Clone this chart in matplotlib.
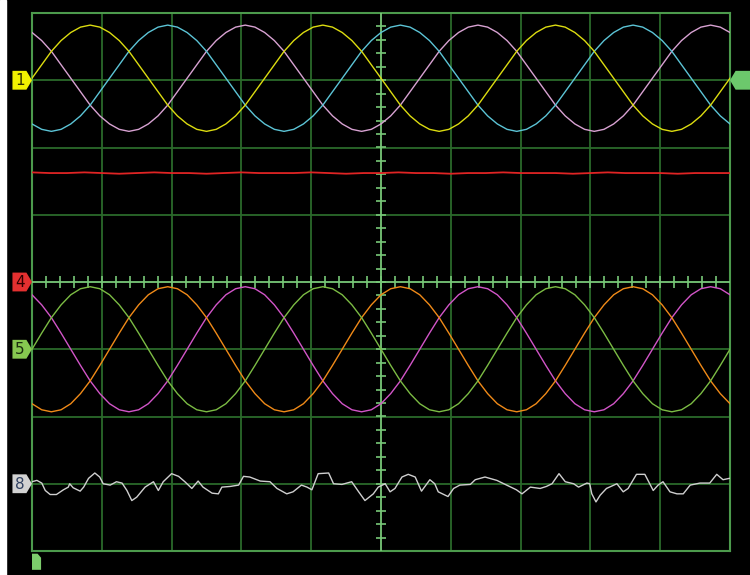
# Scope screenshot: 3 phase voltages (ch1-3), ch4 flat, 3 phase currents (ch5-7), ch8 noise
import matplotlib
matplotlib.use("Agg")
import matplotlib.pyplot as plt
from matplotlib.patches import Polygon, Rectangle
import numpy as np

# time base for the sine traces: 0..10 div, 73 samples (24 per period)
t_sine = np.linspace(0, 10, 73)

# top group (div, relative to channel 1 level)
ch1_yellow = [0.03, 0.23, 0.43, 0.59, 0.71, 0.79, 0.82, 0.79, 0.71, 0.59, 0.43, 0.23,
              0.03, -0.17, -0.37, -0.53, -0.65, -0.73, -0.76, -0.73, -0.65, -0.53, -0.37, -0.17,
              0.03, 0.23, 0.43, 0.59, 0.71, 0.79, 0.82, 0.79, 0.71, 0.59, 0.43, 0.23,
              0.03, -0.17, -0.37, -0.53, -0.65, -0.73, -0.76, -0.73, -0.65, -0.53, -0.37, -0.17,
              0.03, 0.23, 0.43, 0.59, 0.71, 0.79, 0.82, 0.79, 0.71, 0.59, 0.43, 0.23,
              0.03, -0.17, -0.37, -0.53, -0.65, -0.73, -0.76, -0.73, -0.65, -0.53, -0.37, -0.17,
              0.03]
ch2_cyan = [-0.65, -0.73, -0.76, -0.73, -0.65, -0.53, -0.37, -0.17, 0.03, 0.23, 0.43, 0.59,
            0.71, 0.79, 0.82, 0.79, 0.71, 0.59, 0.43, 0.23, 0.03, -0.17, -0.37, -0.53,
            -0.65, -0.73, -0.76, -0.73, -0.65, -0.53, -0.37, -0.17, 0.03, 0.23, 0.43, 0.59,
            0.71, 0.79, 0.82, 0.79, 0.71, 0.59, 0.43, 0.23, 0.03, -0.17, -0.37, -0.53,
            -0.65, -0.73, -0.76, -0.73, -0.65, -0.53, -0.37, -0.17, 0.03, 0.23, 0.43, 0.59,
            0.71, 0.79, 0.82, 0.79, 0.71, 0.59, 0.43, 0.23, 0.03, -0.17, -0.37, -0.53,
            -0.65]
ch3_pink = [0.71, 0.59, 0.43, 0.23, 0.03, -0.17, -0.37, -0.53, -0.65, -0.73, -0.76, -0.73,
            -0.65, -0.53, -0.37, -0.17, 0.03, 0.23, 0.43, 0.59, 0.71, 0.79, 0.82, 0.79,
            0.71, 0.59, 0.43, 0.23, 0.03, -0.17, -0.37, -0.53, -0.65, -0.73, -0.76, -0.73,
            -0.65, -0.53, -0.37, -0.17, 0.03, 0.23, 0.43, 0.59, 0.71, 0.79, 0.82, 0.79,
            0.71, 0.59, 0.43, 0.23, 0.03, -0.17, -0.37, -0.53, -0.65, -0.73, -0.76, -0.73,
            -0.65, -0.53, -0.37, -0.17, 0.03, 0.23, 0.43, 0.59, 0.71, 0.79, 0.82, 0.79,
            0.71]

# bottom group (div, relative to channel 5 level)
ch5_green = [0.0, 0.24, 0.47, 0.66, 0.81, 0.90, 0.93, 0.90, 0.81, 0.66, 0.47, 0.24,
             0.0, -0.24, -0.47, -0.66, -0.81, -0.90, -0.93, -0.90, -0.81, -0.66, -0.47, -0.24,
             0.0, 0.24, 0.47, 0.66, 0.81, 0.90, 0.93, 0.90, 0.81, 0.66, 0.47, 0.24,
             0.0, -0.24, -0.47, -0.66, -0.81, -0.90, -0.93, -0.90, -0.81, -0.66, -0.47, -0.24,
             0.0, 0.24, 0.47, 0.66, 0.81, 0.90, 0.93, 0.90, 0.81, 0.66, 0.47, 0.24,
             0.0, -0.24, -0.47, -0.66, -0.81, -0.90, -0.93, -0.90, -0.81, -0.66, -0.47, -0.24,
             0.0]
ch6_orange = [-0.81, -0.90, -0.93, -0.90, -0.81, -0.66, -0.47, -0.24, 0.0, 0.24, 0.47, 0.66,
              0.81, 0.90, 0.93, 0.90, 0.81, 0.66, 0.47, 0.24, 0.0, -0.24, -0.47, -0.66,
              -0.81, -0.90, -0.93, -0.90, -0.81, -0.66, -0.47, -0.24, 0.0, 0.24, 0.47, 0.66,
              0.81, 0.90, 0.93, 0.90, 0.81, 0.66, 0.47, 0.24, 0.0, -0.24, -0.47, -0.66,
              -0.81, -0.90, -0.93, -0.90, -0.81, -0.66, -0.47, -0.24, 0.0, 0.24, 0.47, 0.66,
              0.81, 0.90, 0.93, 0.90, 0.81, 0.66, 0.47, 0.24, 0.0, -0.24, -0.47, -0.66,
              -0.81]
ch7_magenta = [0.81, 0.66, 0.47, 0.24, 0.0, -0.24, -0.47, -0.66, -0.81, -0.90, -0.93, -0.90,
               -0.81, -0.66, -0.47, -0.24, 0.0, 0.24, 0.47, 0.66, 0.81, 0.90, 0.93, 0.90,
               0.81, 0.66, 0.47, 0.24, 0.0, -0.24, -0.47, -0.66, -0.81, -0.90, -0.93, -0.90,
               -0.81, -0.66, -0.47, -0.24, 0.0, 0.24, 0.47, 0.66, 0.81, 0.90, 0.93, 0.90,
               0.81, 0.66, 0.47, 0.24, 0.0, -0.24, -0.47, -0.66, -0.81, -0.90, -0.93, -0.90,
               -0.81, -0.66, -0.47, -0.24, 0.0, 0.24, 0.47, 0.66, 0.81, 0.90, 0.93, 0.90,
               0.81]

# ch4 (red): almost flat, relative to channel 4 level
t_red = np.linspace(0, 10, 41)
ch4_red = [1.63, 1.62, 1.62, 1.63, 1.62, 1.61, 1.62, 1.63, 1.62, 1.62, 1.61, 1.62, 1.63, 1.62,
           1.62, 1.62, 1.63, 1.62, 1.61, 1.62, 1.62, 1.63, 1.62, 1.62, 1.61, 1.62, 1.62, 1.63,
           1.62, 1.62, 1.62, 1.61, 1.62, 1.63, 1.62, 1.62, 1.62, 1.61, 1.62, 1.62, 1.62]

# ch8 (gray): read point by point
t_gray = [0.00, 0.07, 0.14, 0.19, 0.26, 0.35, 0.45, 0.52, 0.54, 0.59, 0.69, 0.74, 0.81, 0.90,
          0.97, 1.02, 1.12, 1.21, 1.29, 1.36, 1.43, 1.50, 1.62, 1.74, 1.81, 1.88, 2.00, 2.10,
          2.19, 2.29, 2.38, 2.45, 2.58, 2.67, 2.72, 2.84, 2.96, 3.03, 3.12, 3.27, 3.41, 3.51,
          3.65, 3.74, 3.86, 3.94, 4.01, 4.10, 4.25, 4.32, 4.44, 4.58, 4.68, 4.77, 4.89, 4.96,
          5.06, 5.13, 5.20, 5.30, 5.39, 5.49, 5.58, 5.70, 5.77, 5.82, 5.96, 6.04, 6.13, 6.28,
          6.35, 6.49, 6.66, 6.80, 6.94, 7.02, 7.14, 7.28, 7.37, 7.45, 7.55, 7.64, 7.76, 7.83,
          7.95, 7.99, 8.02, 8.08, 8.14, 8.23, 8.38, 8.47, 8.54, 8.66, 8.78, 8.90, 8.97, 9.04,
          9.14, 9.24, 9.33, 9.43, 9.57, 9.71, 9.81, 9.90, 9.99]
ch8_gray = [0.03, 0.05, 0.01, -0.10, -0.16, -0.16, -0.09, -0.05, 0.00, -0.06, -0.11, -0.05,
            0.08, 0.16, 0.10, 0.00, -0.02, 0.03, 0.01, -0.10, -0.25, -0.20, -0.05, 0.03,
            -0.10, 0.03, 0.15, 0.11, 0.03, -0.07, 0.04, -0.05, -0.14, -0.15, -0.05, -0.04,
            -0.02, 0.11, 0.10, 0.04, 0.03, -0.07, -0.15, -0.12, -0.02, -0.05, -0.09, 0.15,
            0.16, 0.00, -0.01, 0.03, -0.12, -0.25, -0.15, -0.05,
            0.00, -0.12, -0.07, 0.10, 0.14, 0.10, -0.11, 0.06, 0.00, -0.12, -0.19, -0.07,
            -0.02, -0.01, 0.06, 0.10, 0.05, -0.02, -0.09, -0.15, -0.05, -0.07, -0.04, 0.00,
            0.15, 0.03, 0.00, -0.05, 0.01, 0.00, -0.15, -0.27, -0.17, -0.07, 0.00, -0.12,
            -0.07, 0.14, 0.14, -0.10, -0.02, 0.03, -0.12, -0.15, -0.15, -0.02, 0.01, 0.01,
            0.14, 0.06, 0.08]

# channel levels in div (where the tags sit)
lvl_top, lvl_4, lvl_bot, lvl_8 = 3.0, 0.0, -1.0, -3.0

fig = plt.figure(figsize=(7.5, 5.75), dpi=100, facecolor="black")
fig.patches.append(Rectangle((0, 0), 6 / 750, 1, transform=fig.transFigure,
                             color="white", zorder=0))
ax = fig.add_axes([32 / 750, 24 / 575, 698 / 750, 538 / 575])
ax.set_facecolor("black")
ax.set_xlim(0, 10)
ax.set_ylim(-4, 4)
ax.set_xticks([])
ax.set_yticks([])
for s in ax.spines.values():
    s.set_visible(False)

# graticule
grid_c = "#2b6a2b"
for xv in range(1, 10):
    if xv != 5:
        ax.axvline(xv, color=grid_c, lw=1.3, zorder=1)
for yv in range(-3, 4):
    if yv != 0:
        ax.axhline(yv, color=grid_c, lw=1.3, zorder=1)
border_c = "#4c9a4c"
for xv in (0, 10):
    ax.axvline(xv, color=border_c, lw=1.5, zorder=2, clip_on=False)
for yv in (-4, 4):
    ax.axhline(yv, color=border_c, lw=1.5, zorder=2, clip_on=False)
axis_c = "#78c878"
ax.axvline(5, color=axis_c, lw=1.3, zorder=2)
ax.axhline(0, color=axis_c, lw=1.3, zorder=2)
mx = np.arange(0.2, 10, 0.2)
ax.vlines(mx, -0.09, 0.09, color=axis_c, lw=1.2, zorder=2)
my = np.arange(-3.8, 4, 0.2)
ax.hlines(my, 4.93, 5.07, color=axis_c, lw=1.2, zorder=2)

# traces
lw = 1.0
ax.plot(t_sine, lvl_top + np.array(ch3_pink), color="#d8a2d2", lw=lw, zorder=3)
ax.plot(t_sine, lvl_top + np.array(ch2_cyan), color="#5cc4d6", lw=lw, zorder=3)
ax.plot(t_sine, lvl_top + np.array(ch1_yellow), color="#dcdc10", lw=lw, zorder=4)
ax.plot(t_red, lvl_4 + np.array(ch4_red), color="#e02424", lw=1.3, zorder=3)
ax.plot(t_sine, lvl_bot + np.array(ch7_magenta), color="#d255c8", lw=lw, zorder=3)
ax.plot(t_sine, lvl_bot + np.array(ch6_orange), color="#f08a18", lw=lw, zorder=3)
ax.plot(t_sine, lvl_bot + np.array(ch5_green), color="#7cbc44", lw=lw, zorder=4)
ax.plot(t_gray, lvl_8 + np.array(ch8_gray), color="#cfcfcf", lw=lw, zorder=3)


def tag(y, label, fc, tc):
    pts = [(-0.28, y + 0.14), (-0.08, y + 0.14), (0.0, y), (-0.08, y - 0.14), (-0.28, y - 0.14)]
    ax.add_patch(Polygon(pts, closed=True, fc=fc, ec="none", clip_on=False, zorder=5))
    ax.text(-0.17, y - 0.01, label, ha="center", va="center", fontsize=11,
            color=tc, clip_on=False, zorder=6)


tag(lvl_top, "1", "#f2f200", "#303000")
tag(lvl_4, "4", "#e43030", "#300000")
tag(lvl_bot, "5", "#86c850", "#1c3010")
tag(lvl_8, "8", "#d2d2d2", "#304060")

# trigger level tag on the right
ax.add_patch(Polygon([(10.0, 3.0), (10.08, 3.14), (10.3, 3.14), (10.3, 2.86), (10.08, 2.86)],
                     closed=True, fc="#6cc86c", ec="none", clip_on=False, zorder=5))
# trigger position tag at the bottom
ax.add_patch(Polygon([(0.0, -4.04), (0.08, -4.04), (0.13, -4.1), (0.13, -4.28), (0.0, -4.28)],
                     closed=True, fc="#7ccc6c", ec="none", clip_on=False, zorder=5))

fig.savefig("out.png", dpi=100, facecolor="black")
